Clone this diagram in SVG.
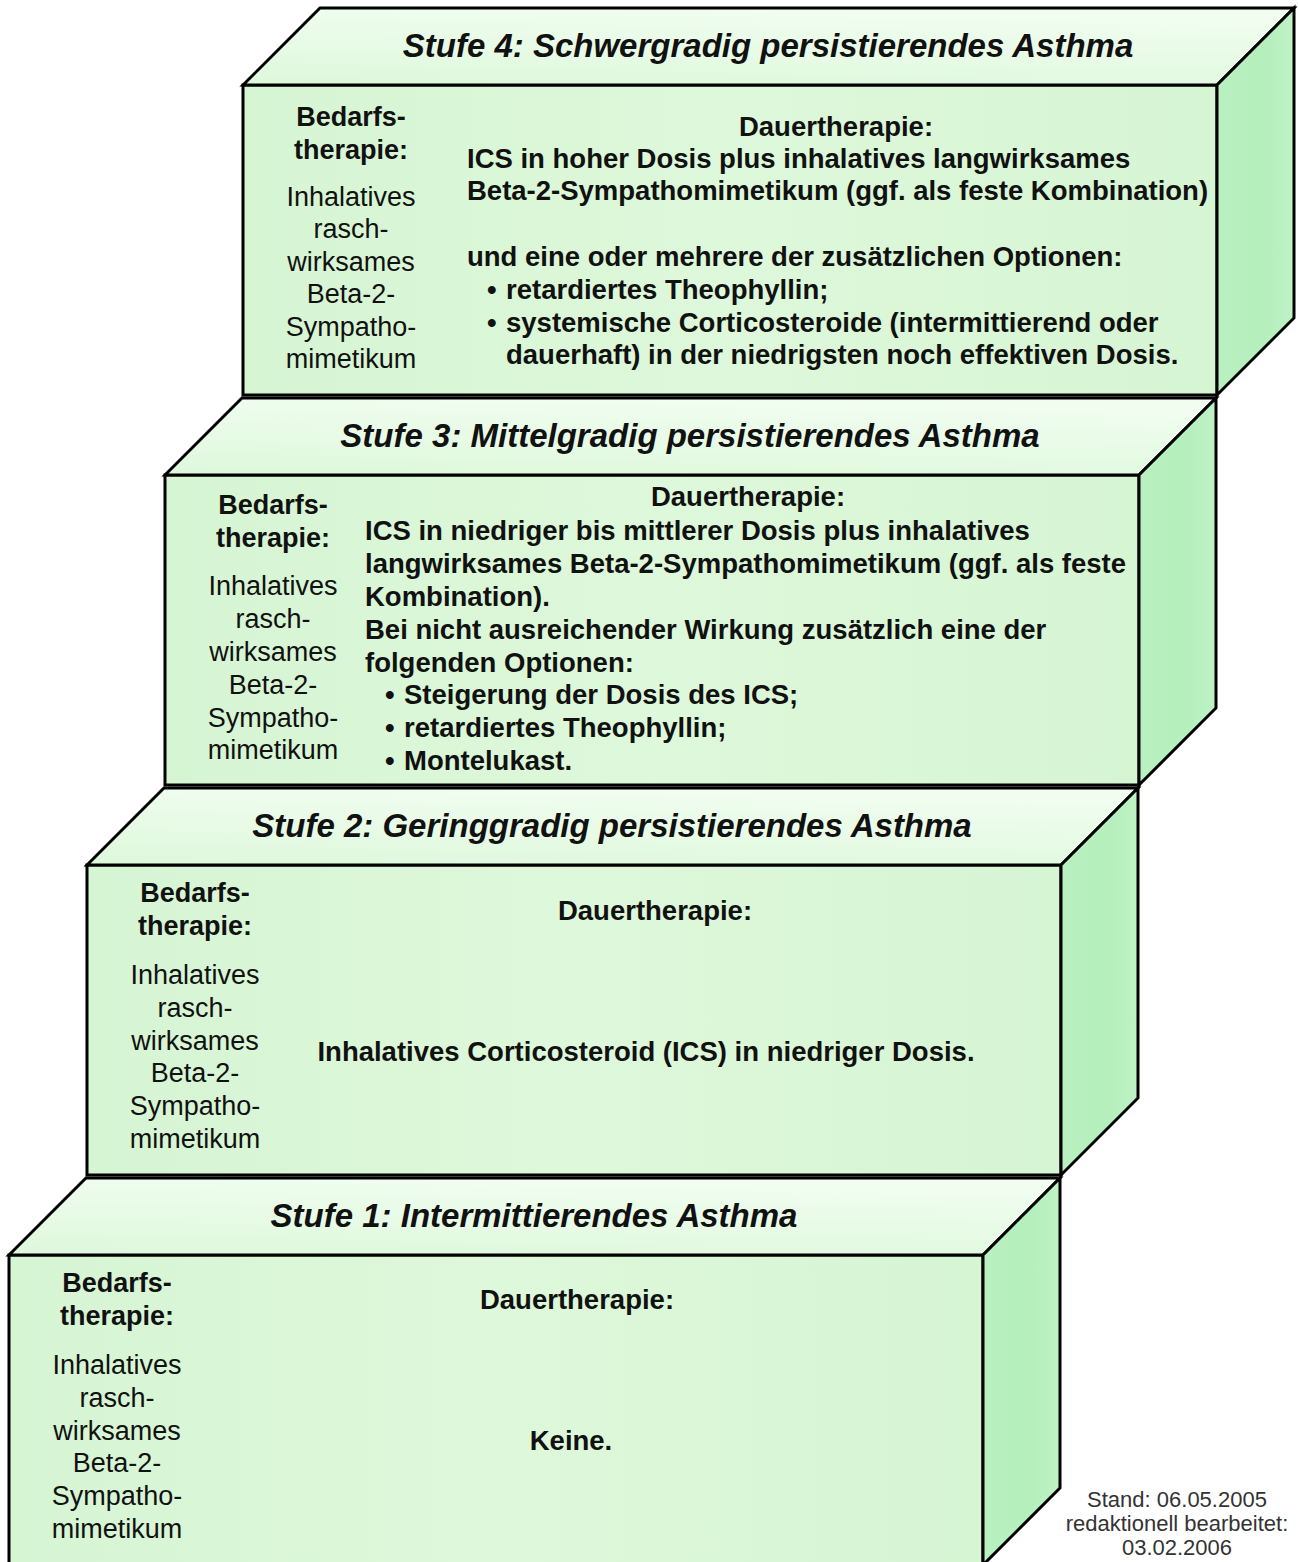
<svg xmlns="http://www.w3.org/2000/svg" width="1298" height="1562" viewBox="0 0 1298 1562">
<defs>
<linearGradient id="gFront" x1="0" y1="0" x2="1" y2="0">
<stop offset="0" stop-color="#d6f5d3"/>
<stop offset="0.5" stop-color="#ddf8da"/>
<stop offset="1" stop-color="#d6f5d3"/>
</linearGradient>
<linearGradient id="gTop" x1="0" y1="1" x2="0.3" y2="0">
<stop offset="0" stop-color="#def8dc"/>
<stop offset="1" stop-color="#f0fdef"/>
</linearGradient>
<linearGradient id="gSide" x1="0" y1="0" x2="1" y2="0">
<stop offset="0" stop-color="#b9f1c0"/>
<stop offset="0.6" stop-color="#b4efbc"/>
<stop offset="1" stop-color="#bff2c5"/>
</linearGradient>
</defs>
<style>
.face{stroke:#000;stroke-width:3;stroke-linejoin:miter}
.front{fill:url(#gFront)}
.top{fill:url(#gTop)}
.side{fill:url(#gSide)}
text{font-family:"Liberation Sans",Arial,sans-serif;fill:#111}
.title{font-size:33px;font-weight:bold;font-style:italic;text-anchor:middle}
.lb{font-size:27px;font-weight:bold;text-anchor:middle}
.lr{font-size:27px;text-anchor:middle}
.b{font-size:27.5px;font-weight:bold}
.bc{font-size:27.5px;font-weight:bold;text-anchor:middle}
.note{font-size:22px;fill:#333;text-anchor:middle}
</style>
<rect width="1298" height="1562" fill="#ffffff"/>

<g id="stufe1" transform="translate(9,1255)">
<rect class="face front" x="0" y="0" width="974" height="310"/>
<polygon class="face top" points="0,0 77,-77 1051,-77 974,0"/>
<polygon class="face side" points="974,0 1051,-77 1051,233 974,310"/>
<text class="title" x="525" y="-28">Stufe 1: Intermittierendes Asthma</text>
<text class="lb" x="108" y="37">Bedarfs-</text>
<text class="lb" x="108" y="70">therapie:</text>
<text class="lr" x="108" y="119">Inhalatives</text>
<text class="lr" x="108" y="152">rasch-</text>
<text class="lr" x="108" y="185">wirksames</text>
<text class="lr" x="108" y="217">Beta-2-</text>
<text class="lr" x="108" y="250">Sympatho-</text>
<text class="lr" x="108" y="283">mimetikum</text>
<text class="bc" x="568" y="54">Dauertherapie:</text>
<text class="bc" x="562" y="195">Keine.</text>
</g>

<g id="stufe2" transform="translate(87,865)">
<rect class="face front" x="0" y="0" width="974" height="310"/>
<polygon class="face top" points="0,0 77,-77 1051,-77 974,0"/>
<polygon class="face side" points="974,0 1051,-77 1051,233 974,310"/>
<text class="title" x="525" y="-28">Stufe 2: Geringgradig persistierendes Asthma</text>
<text class="lb" x="108" y="37">Bedarfs-</text>
<text class="lb" x="108" y="70">therapie:</text>
<text class="lr" x="108" y="119">Inhalatives</text>
<text class="lr" x="108" y="152">rasch-</text>
<text class="lr" x="108" y="185">wirksames</text>
<text class="lr" x="108" y="217">Beta-2-</text>
<text class="lr" x="108" y="250">Sympatho-</text>
<text class="lr" x="108" y="283">mimetikum</text>
<text class="bc" x="568" y="55">Dauertherapie:</text>
<text class="bc" x="559" y="196">Inhalatives Corticosteroid (ICS) in niedriger Dosis.</text>
</g>

<g id="stufe3" transform="translate(165,475)">
<rect class="face front" x="0" y="0" width="974" height="310"/>
<polygon class="face top" points="0,0 77,-77 1051,-77 974,0"/>
<polygon class="face side" points="974,0 1051,-77 1051,233 974,310"/>
<text class="title" x="525" y="-28">Stufe 3: Mittelgradig persistierendes Asthma</text>
<text class="lb" x="108" y="39">Bedarfs-</text>
<text class="lb" x="108" y="72">therapie:</text>
<text class="lr" x="108" y="120">Inhalatives</text>
<text class="lr" x="108" y="153">rasch-</text>
<text class="lr" x="108" y="186">wirksames</text>
<text class="lr" x="108" y="219">Beta-2-</text>
<text class="lr" x="108" y="252">Sympatho-</text>
<text class="lr" x="108" y="284">mimetikum</text>
<text class="bc" x="583" y="31">Dauertherapie:</text>
<text class="b" x="200" y="65">ICS in niedriger bis mittlerer Dosis plus inhalatives</text>
<text class="b" x="200" y="98">langwirksames Beta-2-Sympathomimetikum (ggf. als feste</text>
<text class="b" x="200" y="131">Kombination).</text>
<text class="b" x="200" y="164">Bei nicht ausreichender Wirkung zusätzlich eine der</text>
<text class="b" x="200" y="197">folgenden Optionen:</text>
<text class="b" x="220" y="229">•</text><text class="b" x="239" y="229">Steigerung der Dosis des ICS;</text>
<text class="b" x="220" y="262">•</text><text class="b" x="239" y="262">retardiertes Theophyllin;</text>
<text class="b" x="220" y="295">•</text><text class="b" x="239" y="295">Montelukast.</text>
</g>

<g id="stufe4" transform="translate(243,85)">
<rect class="face front" x="0" y="0" width="974" height="310"/>
<polygon class="face top" points="0,0 77,-77 1051,-77 974,0"/>
<polygon class="face side" points="974,0 1051,-77 1051,233 974,310"/>
<text class="title" x="525" y="-28">Stufe 4: Schwergradig persistierendes Asthma</text>
<text class="lb" x="108" y="41">Bedarfs-</text>
<text class="lb" x="108" y="74">therapie:</text>
<text class="lr" x="108" y="121">Inhalatives</text>
<text class="lr" x="108" y="153">rasch-</text>
<text class="lr" x="108" y="186">wirksames</text>
<text class="lr" x="108" y="218">Beta-2-</text>
<text class="lr" x="108" y="251">Sympatho-</text>
<text class="lr" x="108" y="283">mimetikum</text>
<text class="bc" x="593" y="51">Dauertherapie:</text>
<text class="b" x="224" y="83">ICS in hoher Dosis plus inhalatives langwirksames</text>
<text class="b" x="224" y="115">Beta-2-Sympathomimetikum (ggf. als feste Kombination)</text>
<text class="b" x="224" y="181">und eine oder mehrere der zusätzlichen Optionen:</text>
<text class="b" x="244" y="214">•</text><text class="b" x="263" y="214">retardiertes Theophyllin;</text>
<text class="b" x="244" y="247">•</text><text class="b" x="263" y="247">systemische Corticosteroide (intermittierend oder</text>
<text class="b" x="263" y="279">dauerhaft) in der niedrigsten noch effektiven Dosis.</text>
</g>

<g id="stand">
<text class="note" x="1177" y="1507">Stand: 06.05.2005</text>
<text class="note" x="1177" y="1531">redaktionell bearbeitet:</text>
<text class="note" x="1177" y="1555">03.02.2006</text>
</g>
</svg>
